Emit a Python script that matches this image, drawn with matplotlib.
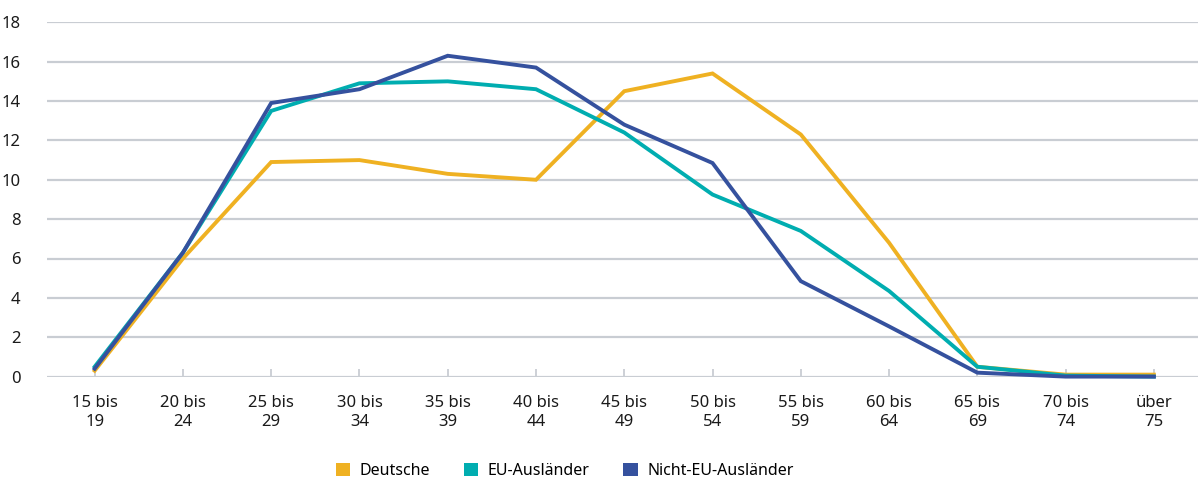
import matplotlib
matplotlib.use("Agg")
import matplotlib.pyplot as plt
from matplotlib.patches import Patch

categories = ["15 bis\n19", "20 bis\n24", "25 bis\n29", "30 bis\n34", "35 bis\n39",
              "40 bis\n44", "45 bis\n49", "50 bis\n54", "55 bis\n59", "60 bis\n64",
              "65 bis\n69", "70 bis\n74", "über\n75"]
deutsche = [0.3, 6.0, 10.9, 11.0, 10.3, 10.0, 14.5, 15.4, 12.3, 6.8, 0.5, 0.1, 0.1]
eu_auslaender = [0.5, 6.3, 13.5, 14.9, 15.0, 14.6, 12.4, 9.25, 7.4, 4.35, 0.5, 0.05, 0.0]
nicht_eu_auslaender = [0.4, 6.3, 13.9, 14.6, 16.3, 15.7, 12.8, 10.85, 4.85, 2.55, 0.2, 0.0, 0.0]
series_names = ["Deutsche", "EU-Ausländer", "Nicht-EU-Ausländer"]
yticks = [0, 2, 4, 6, 8, 10, 12, 14, 16, 18]

colors = ["#EFB122", "#00ADB0", "#35519E"]
grid_color = "#C9CDD3"

plt.rcParams['font.family'] = ['Noto Sans', 'DejaVu Sans']

W, H = 1198, 479
fig = plt.figure(figsize=(W / 100, H / 100), dpi=100)
ax = fig.add_axes([47 / W, 102.4 / H, (W - 47) / W, (376.6 - 22.3) / H])

x = list(range(len(categories)))
for vals, c, z in zip([deutsche, eu_auslaender, nicht_eu_auslaender], colors, [3, 4, 5]):
    ax.plot(x, vals, color=c, lw=2.8, zorder=z, clip_on=False, solid_joinstyle='miter')

ax.set_xlim(-0.54, 12.5)
ax.set_ylim(0, 18)
ax.set_yticks(yticks)
ax.set_yticklabels([str(v) for v in yticks], fontsize=12, color="#1a1a1a")
ax.set_xticks(x)
ax.set_xticklabels(categories, fontsize=12, color="#1a1a1a", linespacing=1.3)

for v in yticks:
    ax.axhline(v, color=grid_color, lw=1.6, zorder=1)

for s in ax.spines.values():
    s.set_visible(False)

ax.tick_params(axis='y', length=0, pad=19)
ax.tick_params(axis='x', direction='in', length=6, width=1.3, color=grid_color, pad=13)

handles = [Patch(facecolor=c, edgecolor='none') for c in colors]
fig.legend(handles, series_names, loc='center left', bbox_to_anchor=(336 / W, (H - 471) / H),
           ncol=3, frameon=False, fontsize=11.5, handlelength=0.9, handleheight=0.9,
           handletextpad=0.6, columnspacing=2.1, borderaxespad=0, borderpad=0)

fig.savefig("out.png", dpi=100)
